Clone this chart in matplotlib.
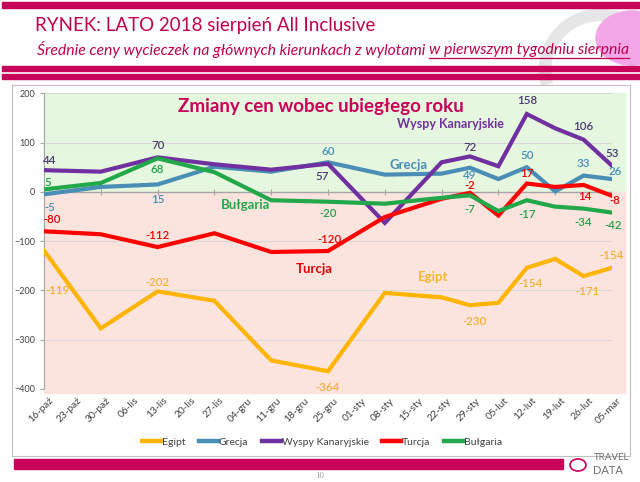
import numpy as np
import matplotlib
matplotlib.use("Agg")
import matplotlib.pyplot as plt
from matplotlib.patches import Rectangle, Circle, Arc
from matplotlib.transforms import ScaledTranslation

plt.rcParams["font.family"] = ["Lato", "DejaVu Sans"]

# dane
tygodnie = ["16-paź", "23-paź", "30-paź", "06-lis", "13-lis", "20-lis", "27-lis",
            "04-gru", "11-gru", "18-gru", "25-gru", "01-sty", "08-sty", "15-sty",
            "22-sty", "29-sty", "05-lut", "12-lut", "19-lut", "26-lut", "05-mar"]

egipt = [-119, None, -277, None, -202, None, -221, None, -342, None, -364, None,
         -205, None, -214, -230, -225, -154, -136, -171, -154]
grecja = [-5, None, 10, None, 15, None, 51, None, 41, None, 60, None,
          35, None, 37, 49, 26, 50, 1, 33, 26]
wyspy = [44, None, 41, None, 70, None, 56, None, 45, None, 57, None,
         -63, None, 60, 72, 52, 158, 129, 106, 53]
turcja = [-80, None, -86, None, -112, None, -84, None, -122, None, -120, None,
          -51, None, -14, -2, -48, 17, 10, 14, -8]
bulgaria = [5, None, 18, None, 68, None, 40, None, -17, None, -20, None,
            -24, None, -12, -7, -39, -17, -30, -34, -42]

nazwy = ["Egipt", "Grecja", "Wyspy Kanaryjskie", "Turcja", "Bułgaria"]
serie = [egipt, grecja, wyspy, turcja, bulgaria]

kolory = ["#FFB400", "#4A8DB5", "#7030A0", "#FF0000", "#22A84A"]
kolory_etykiet = ["#F2B035", "#4A8DB5", "#4B3A70", "#F00000", "#22A04A"]

# etykiety danych: indeks -> przesunięcie w pikselach
etykiety = [
    {0: (14, -40), 4: (0, 9), 10: (0, -16), 15: (4, -16), 17: (4, -16), 19: (4, -15), 20: (0, 12)},
    {0: (6, -13), 4: (0, -15), 10: (0, 11), 15: (0, -8), 17: (0, 12), 19: (0, 12), 20: (3, 8)},
    {0: (6, 10), 4: (0, 12), 10: (-6, -13), 15: (0, 9), 17: (0, 13), 19: (0, 13), 20: (0, 12)},
    {0: (8, 12), 4: (0, 12), 10: (2, 12), 15: (0, 7), 17: (0, 10), 19: (1, -12), 20: (3, -5)},
    {0: (4, 7), 4: (0, -11), 10: (0, -12), 15: (0, -14), 17: (0, -14), 19: (0, -14), 20: (1, -13)},
]

W, H = 640, 482
fig = plt.figure(figsize=(W / 100, H / 100), dpi=100)


def fx(px):
    return px / W


def fy(py):
    return 1 - py / H


MAGENTA = "#C8005A"

# dekoracja w prawym górnym rogu
fig.add_artist(Arc((fx(600), fy(70)), 110 / W, 110 / H, theta1=20, theta2=200,
                   transform=fig.transFigure, color="#E6E6E6", lw=9, zorder=0))
fig.add_artist(Circle((fx(632), fy(38)), 36 / W, transform=fig.transFigure,
                      color="#F3A6E8", zorder=0))

# paski
fig.add_artist(Rectangle((fx(2), fy(8)), 1, 6 / H, transform=fig.transFigure,
                         color=MAGENTA, zorder=1))
fig.add_artist(Rectangle((fx(2), fy(71)), 1, 5 / H, transform=fig.transFigure,
                         color=MAGENTA, zorder=1))
fig.add_artist(Rectangle((fx(2), fy(79)), 1, 5 / H, transform=fig.transFigure,
                         color=MAGENTA, zorder=1))
fig.add_artist(Rectangle((fx(14), fy(469)), (563 - 14) / W, 10 / H,
                         transform=fig.transFigure, color=MAGENTA, zorder=1))

# ramka wykresu
fig.add_artist(Rectangle((fx(12), fy(456)), (630 - 12) / W, (456 - 85) / H,
                         transform=fig.transFigure, facecolor="white",
                         edgecolor="#BFBFBF", lw=0.8, zorder=1))

# tytuły
fig.text(fx(35), fy(25), "RYNEK: LATO 2018 sierpień All Inclusive", color="#C0004F",
         fontsize=13.5, va="center", ha="left")
t1 = fig.text(fx(37), fy(50), "Średnie ceny wycieczek na głównych kierunkach z wylotami ",
              color="#C0004F", fontsize=11.3, style="italic", va="center", ha="left")
fig.canvas.draw()
r = fig.canvas.get_renderer()
bb = t1.get_window_extent(r)
t2 = fig.text(bb.x1 / W, fy(50), "w pierwszym tygodniu sierpnia", color="#C0004F",
              fontsize=11.3, style="italic", va="center", ha="left")
bb2 = t2.get_window_extent(r)
fig.add_artist(plt.Line2D([bb2.x0 / W, bb2.x1 / W], [fy(58), fy(58)],
                          transform=fig.transFigure, color="#C0004F", lw=0.9))

# wykres
ax = fig.add_axes([fx(44), fy(389), (612 - 44) / W, (389 - 93.3) / H])
ax.set_zorder(2)
ax.patch.set_visible(False)
ax.set_xlim(0, 20)
ax.set_ylim(-400, 200)

ax.add_patch(Rectangle((0, 0), 20.45, 200, color="#E5F7DE", clip_on=False, zorder=0))
ax.add_patch(Rectangle((0, -408), 20.45, 408, color="#FCE4DE", clip_on=False, zorder=0))

ax.hlines([-400, -300, -200, -100, 100, 200], 0, 20, color="#D9D9D9", lw=0.8, zorder=1)
ax.hlines(0, 0, 20, color="#A6A6A6", lw=1, zorder=1)
ax.vlines(range(0, 21, 2), -6, 6, color="#A6A6A6", lw=0.8, zorder=1)

x = np.arange(len(tygodnie))
for nazwa, dane, kol, kol_et, et in zip(nazwy, serie, kolory, kolory_etykiet, etykiety):
    y = np.array([np.nan if v is None else v for v in dane], dtype=float)
    m = ~np.isnan(y)
    ax.plot(x[m], y[m], color=kol, lw=3, solid_joinstyle="miter", label=nazwa, zorder=3)
    for i, (dx, dy) in et.items():
        ax.annotate(str(dane[i]), (i, dane[i]), xytext=(dx, dy), textcoords="offset pixels",
                    ha="center", va="center", fontsize=8.3, fontweight="semibold",
                    color=kol_et, zorder=4)

ax.text(9.75, 173, "Zmiany cen wobec ubiegłego roku", color="#C8005A", fontsize=13.5,
        fontweight="bold", ha="center", va="center")
ax.text(14.3, 138, "Wyspy Kanaryjskie", color="#7030A0", fontsize=9, fontweight="bold",
        ha="center", va="center")
ax.text(12.85, 54, "Grecja", color="#4A8DB5", fontsize=9.5, fontweight="bold",
        ha="center", va="center")
ax.text(7.1, -27, "Bułgaria", color="#22A84A", fontsize=9.5, fontweight="bold",
        ha="center", va="center")
ax.text(9.5, -156, "Turcja", color="#E00000", fontsize=9.5, fontweight="bold",
        ha="center", va="center")
ax.text(13.7, -172, "Egipt", color="#F5B72E", fontsize=9.5, fontweight="bold",
        ha="center", va="center")

for s in ["top", "right", "bottom"]:
    ax.spines[s].set_visible(False)
ax.spines["left"].set_color("#A6A6A6")
ax.set_yticks(range(-400, 201, 100))
ax.tick_params(axis="y", labelsize=6.5, labelcolor="#404040", color="#A6A6A6", length=3)
ax.set_xticks(x)
ax.set_xticklabels(tygodnie, rotation=45, ha="right", rotation_mode="anchor",
                   fontsize=7.3, color="#404040")
ax.tick_params(axis="x", length=0, pad=5)
for lab in ax.get_xticklabels():
    lab.set_transform(lab.get_transform() + ScaledTranslation(5 / 100, 0, fig.dpi_scale_trans))

leg = fig.legend(loc="center", bbox_to_anchor=(fx(322), fy(442)), ncol=5, frameon=False,
                 fontsize=7.5, handlelength=1.8, handletextpad=0.1, columnspacing=1.3,
                 labelcolor="#404040")
for h in leg.get_lines():
    h.set_linewidth(3.2)

# stopka
fig.text(fx(320), fy(476), "10", color="#A0A0A0", fontsize=6.5, ha="center", va="center",
         family="Liberation Serif")
fig.add_artist(Circle((fx(578), fy(465)), 8 / W, transform=fig.transFigure,
                      facecolor="none", edgecolor="#C8005A", lw=1.2))
fig.text(fx(612), fy(458), "TRAVEL", color="#6D6D6D", fontsize=7, ha="center", va="center")
fig.text(fx(608), fy(470), "DATA", color="#6D6D6D", fontsize=8, ha="center", va="center")

fig.savefig("out.png", dpi=100)
